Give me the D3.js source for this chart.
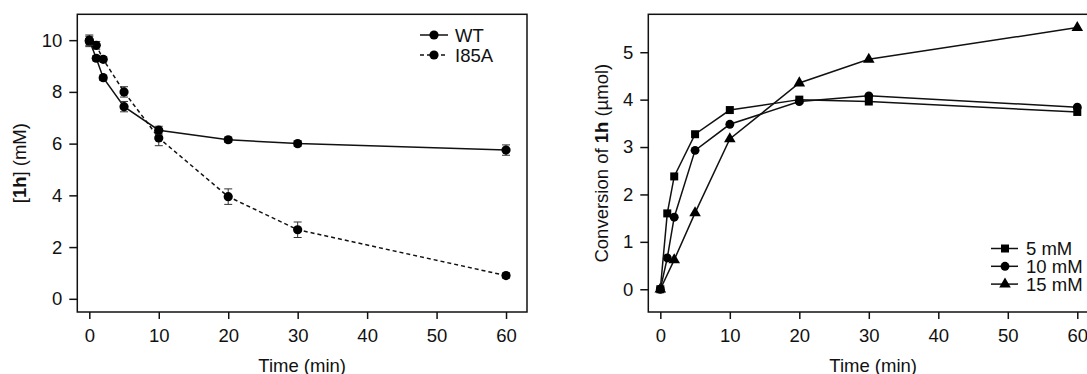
<!DOCTYPE html>
<html>
<head>
<meta charset="utf-8">
<script src="https://cdn.jsdelivr.net/npm/d3@7"></script>
<style>
  body { margin: 0; background: #fff; }
  svg { display: block; font-family: "Liberation Sans", Arial, Helvetica, sans-serif; }
</style>
</head>
<body>
<svg id="chart" width="1087" height="374"></svg>
<script>
// left panel: [1h] over time
const timesA = [0, 1, 2, 5, 10, 20, 30, 60];
const wtValues = [10.0, 9.3, 8.55, 7.43, 6.52, 6.15, 6.0, 5.75];
const wtErr = [0.2, 0.1, 0.1, 0.2, 0.15, 0.1, 0.1, 0.2];
const i85aValues = [9.95, 9.8, 9.26, 8.0, 6.22, 3.95, 2.67, 0.9];
const i85aErr = [0.2, 0.15, 0.1, 0.2, 0.3, 0.3, 0.3, 0.1];

// right panel: conversion of 1h
const times5 = [0, 1, 2, 5, 10, 20, 30, 60];
const conv5 = [0, 1.6, 2.38, 3.27, 3.78, 4.0, 3.96, 3.74];
const times10 = [0, 1, 2, 5, 10, 20, 30, 60];
const conv10 = [0, 0.66, 1.52, 2.93, 3.48, 3.96, 4.08, 3.84];
const times15 = [0, 2, 5, 10, 20, 30, 60];
const conv15 = [0, 0.62, 1.61, 3.17, 4.35, 4.85, 5.52];

const xTicks = [0, 10, 20, 30, 40, 50, 60];
const yTicksA = [0, 2, 4, 6, 8, 10];
const yTicksB = [0, 1, 2, 3, 4, 5];

const svg = d3.select("#chart");
const FS = 18.5;

function panel(opts) {
  const x = d3.scaleLinear().domain(opts.xDomain).range(opts.xRange);
  const y = d3.scaleLinear().domain(opts.yDomain).range(opts.yRange);
  const g = svg.append("g");

  // frame
  g.append("rect")
    .attr("x", opts.xRange[0]).attr("y", opts.yRange[1])
    .attr("width", opts.xRange[1] - opts.xRange[0])
    .attr("height", opts.yRange[0] - opts.yRange[1])
    .attr("fill", "none").attr("stroke", "#111").attr("stroke-width", 1.5);

  const ax = g.append("g")
    .attr("transform", "translate(0," + opts.yRange[0] + ")")
    .call(d3.axisBottom(x).tickValues(xTicks).tickSize(7).tickPadding(10).tickFormat(d3.format("d")));
  const ay = g.append("g")
    .attr("transform", "translate(" + opts.xRange[0] + ",0)")
    .call(d3.axisLeft(y).tickValues(opts.yTicks).tickSize(8).tickPadding(7).tickFormat(d3.format("d")));
  [ax, ay].forEach(a => {
    a.select(".domain").remove();
    a.selectAll("line").attr("stroke", "#111").attr("stroke-width", 1.5);
    a.selectAll("text").attr("font-size", FS).attr("fill", "#111")
      .attr("font-family", "'Liberation Sans', Arial, sans-serif");
  });

  g.append("text")
    .attr("x", (opts.xRange[0] + opts.xRange[1]) / 2).attr("y", 372)
    .attr("text-anchor", "middle").attr("font-size", FS).attr("fill", "#111")
    .text("Time (min)");

  const yt = g.append("text")
    .attr("transform", "translate(" + opts.yTitleX + "," + ((opts.yRange[0] + opts.yRange[1]) / 2) + ") rotate(-90)")
    .attr("text-anchor", "middle").attr("dy", "0.35em")
    .attr("font-size", FS).attr("fill", "#111");
  opts.yTitle.forEach(p => {
    yt.append("tspan").attr("font-weight", p.bold ? "bold" : null).text(p.t);
  });

  return { g, x, y };
}

const A = panel({
  xDomain: [-1.73, 63.02], xRange: [77.3, 527],
  yDomain: [-0.51, 11.0], yRange: [312, 14.3],
  yTicks: yTicksA, yTitleX: 20,
  yTitle: [{ t: "[" }, { t: "1h", bold: true }, { t: "] (mM)" }]
});

const B = panel({
  xDomain: [-1.73, 62.98], xRange: [648.3, 1098],
  yDomain: [-0.48, 5.80], yRange: [312, 14.3],
  yTicks: yTicksB, yTitleX: 602,
  yTitle: [{ t: "Conversion of " }, { t: "1h", bold: true }, { t: " (\u00b5mol)" }]
});

// ---- left panel series
function seriesA(times, vals, errs, dash) {
  const pts = times.map((t, i) => ({ t, v: vals[i], e: errs[i] }));
  const line = d3.line().x(d => A.x(d.t)).y(d => A.y(d.v));
  A.g.append("path").attr("d", line(pts)).attr("fill", "none")
    .attr("stroke", "#111").attr("stroke-width", 1.5)
    .attr("stroke-dasharray", dash ? "4,3" : null);
  const eb = A.g.append("g").attr("stroke", "#333").attr("stroke-width", 1);
  pts.forEach(d => {
    const cx = A.x(d.t), y1 = A.y(d.v - d.e), y2 = A.y(d.v + d.e);
    eb.append("line").attr("x1", cx).attr("x2", cx).attr("y1", y1).attr("y2", y2);
    eb.append("line").attr("x1", cx - 4).attr("x2", cx + 4).attr("y1", y1).attr("y2", y1);
    eb.append("line").attr("x1", cx - 4).attr("x2", cx + 4).attr("y1", y2).attr("y2", y2);
  });
  A.g.selectAll(null).data(pts).enter().append("circle")
    .attr("cx", d => A.x(d.t)).attr("cy", d => A.y(d.v)).attr("r", 4.6).attr("fill", "#000");
}
seriesA(timesA, i85aValues, i85aErr, true);
seriesA(timesA, wtValues, wtErr, false);

// left legend
const legA = [{ name: "WT", dash: false }, { name: "I85A", dash: true }];
legA.forEach((d, i) => {
  const yy = 35 + i * 20;
  A.g.append("line").attr("x1", 420).attr("x2", 448).attr("y1", yy).attr("y2", yy)
    .attr("stroke", "#111").attr("stroke-width", 1.5).attr("stroke-dasharray", d.dash ? "4,3" : null);
  A.g.append("circle").attr("cx", 434).attr("cy", yy).attr("r", 4.6).attr("fill", "#000");
  A.g.append("text").attr("x", 455).attr("y", yy).attr("dy", "0.36em")
    .attr("font-size", FS).attr("fill", "#111").text(d.name);
});

// ---- right panel series
const sym = {
  square: d3.symbol().type(d3.symbolSquare).size(64),
  circle: d3.symbol().type(d3.symbolCircle).size(62),
  triangle: d3.symbol().type(d3.symbolTriangle).size(58)
};
function seriesB(times, vals, shape) {
  const pts = times.map((t, i) => ({ t, v: vals[i] }));
  const line = d3.line().x(d => B.x(d.t)).y(d => B.y(d.v));
  B.g.append("path").attr("d", line(pts)).attr("fill", "none")
    .attr("stroke", "#111").attr("stroke-width", 1.5);
  B.g.selectAll(null).data(pts).enter().append("path")
    .attr("d", sym[shape]())
    .attr("transform", d => "translate(" + B.x(d.t) + "," + B.y(d.v) + ")")
    .attr("fill", "#000");
}
seriesB(times15, conv15, "triangle");
seriesB(times10, conv10, "circle");
seriesB(times5, conv5, "square");

const legB = [{ name: "5 mM", shape: "square" }, { name: "10 mM", shape: "circle" }, { name: "15 mM", shape: "triangle" }];
legB.forEach((d, i) => {
  const yy = 248.5 + i * 17.8;
  B.g.append("line").attr("x1", 991).attr("x2", 1018).attr("y1", yy).attr("y2", yy)
    .attr("stroke", "#111").attr("stroke-width", 1.5);
  B.g.append("path").attr("d", sym[d.shape]()).attr("transform", "translate(1005," + yy + ")").attr("fill", "#000");
  B.g.append("text").attr("x", 1026).attr("y", yy).attr("dy", "0.36em")
    .attr("font-size", FS).attr("fill", "#111").text(d.name);
});
</script>
</body>
</html>
